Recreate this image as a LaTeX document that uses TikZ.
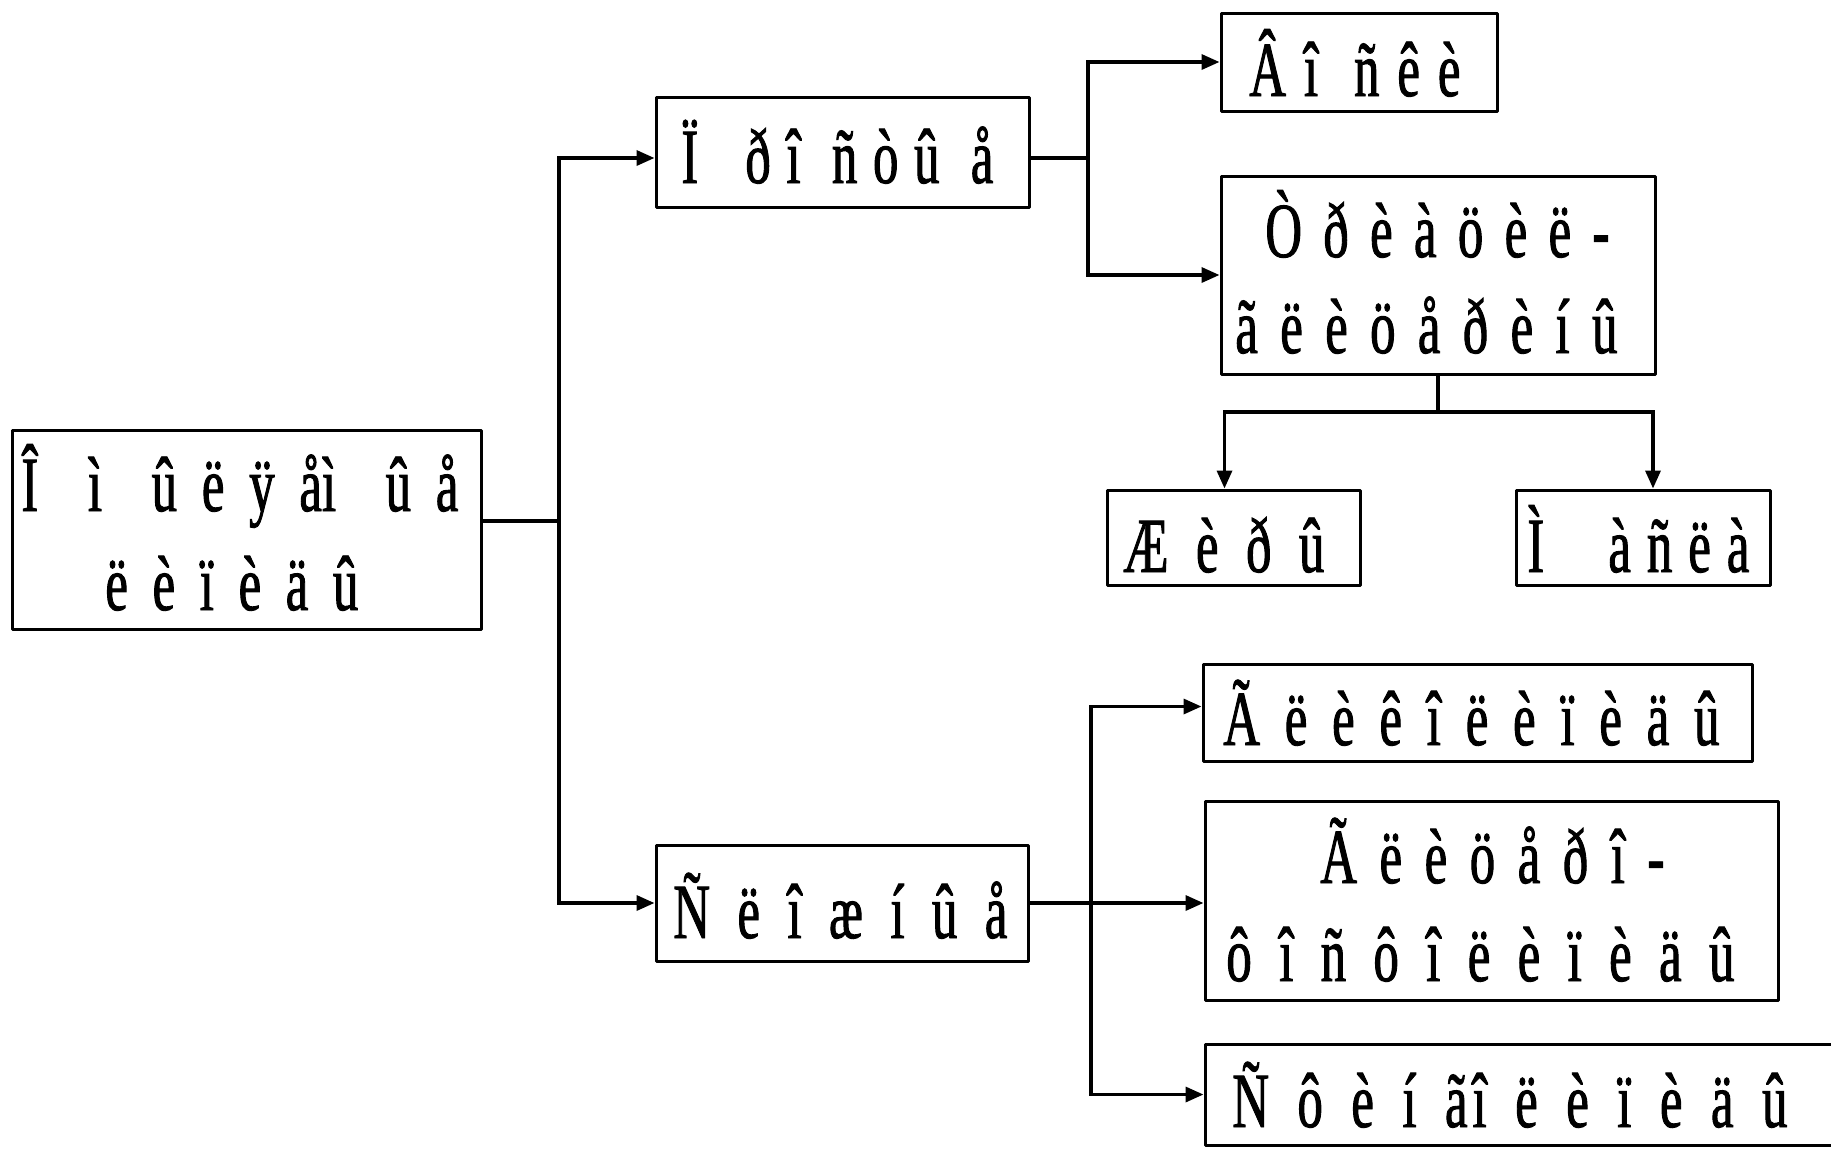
\documentclass[tikz,border=0pt]{standalone}
\usepackage{fontspec}
\setmainfont{Liberation Serif}[FakeStretch=0.65,FakeBold=1.2]
\usetikzlibrary{arrows.meta}
\newcommand\fitline[2]{\makebox[#1][s]{#2}}
\begin{document}
\begin{tikzpicture}[x=0.5pt,y=-0.5pt,
  box/.style={draw, line width=1.5pt, inner sep=0pt, line join=round},
  txt/.style={anchor=base west, inner sep=0pt, font=\fontsize{39}{47}\selectfont},
  conn/.style={line width=1.7pt},
  arr/.style={conn, -{Triangle[length=9pt,width=7.5pt]}}]
\useasboundingbox (0,0) rectangle (1831,1148);
\fill[white] (0,0) rectangle (1831,1148);
% boxes
\node[box, minimum width=234.5pt, minimum height=99.5pt] (b1) at (246.5,529.5) {};
\node[box, minimum width=186.5pt, minimum height=55pt] (b2) at (842.5,152) {};
\node[box, minimum width=138pt, minimum height=49pt] (vosk) at (1359,62) {};
\node[box, minimum width=217pt, minimum height=99pt] (tri) at (1438,275) {};
\node[box, minimum width=126.5pt, minimum height=47.5pt] (zhir) at (1233.5,537.5) {};
\node[box, minimum width=127pt, minimum height=47.5pt] (masla) at (1643,537.5) {};
\node[box, minimum width=186pt, minimum height=58pt] (b3) at (842,903) {};
\node[box, minimum width=274.5pt, minimum height=48.5pt] (glik) at (1477.5,712.5) {};
\node[box, minimum width=286.5pt, minimum height=99.5pt] (glits) at (1491.5,900.5) {};
\node[box, minimum width=372.5pt, minimum height=50.5pt] (sfin) at (1577.5,1094.5) {};
% texts
\node[txt] (t1a) at (21,511) {\fitline{218.5pt}{Î\ \ ì\ \ û\ ë ÿ åì\ \ û\ å}};
\node[txt] (t1b) at (105,610) {\fitline{126.5pt}{ë è ï è ä û}};
\node[txt] (t2) at (681,183) {\fitline{156pt}{Ï\ \ \ ð î\ \ ñ ò û\ \ å}};
\node[txt] (t3) at (1249,96) {\fitline{105.5pt}{Â\ î\ \ ñ ê\ è}};
\node[txt] (t4a) at (1265,257) {\fitline{172pt}{Ò ð è à ö\ è\ ë\ -}};
\node[txt] (t4b) at (1235,353) {\fitline{191pt}{ã ë è\ ö å ð è\ í\ û}};
\node[txt] (t5) at (1123,572) {\fitline{100.5pt}{Æ è ð û}};
\node[txt] (t6) at (1527,572) {\fitline{111pt}{Ì\ \ \ \ à ñ ë à}};
\node[txt] (t7) at (673,938) {\fitline{167pt}{Ñ ë î æ í û å}};
\node[txt] (t8) at (1223,745) {\fitline{248pt}{Ã ë è ê î ë è ï è ä û}};
\node[txt] (t9a) at (1320,883) {\fitline{172pt}{Ã ë è ö å ð î\ -}};
\node[txt] (t9b) at (1226,981) {\fitline{254pt}{ô î ñ ô î ë è ï è ä û}};
\node[txt] (t10) at (1232,1127) {\fitline{277.5pt}{Ñ ô è í ã\kern2.5ptî ë è ï è ä û}};
% connectors
\coordinate (j1) at (559,521);
\draw[conn] (j1 -| b1.east) -- (j1);
\draw[arr] (j1) |- ([yshift=-3pt]b2.west);
\draw[arr] (j1) |- (b3.west);
\coordinate (j2) at (1088,158);
\draw[conn] (j2 -| b2.east) -- (j2);
\draw[arr] (j2) |- (vosk.west);
\draw[arr] (j2) |- (tri.west);
\coordinate (j3) at (1438,412);
\draw[conn] (tri.south) -- (j3);
\draw[arr] (j3) -| ([xshift=-4.5pt]zhir.north);
\draw[arr] (j3) -| ([xshift=5pt]masla.north);
\coordinate (j4) at (1091,903);
\draw[arr] (b3.east) -- (b3.east -| glits.west);
\draw[arr] (j4) |- ([yshift=3pt]glik.west);
\draw[arr] (j4) |- (sfin.west);
\end{tikzpicture}
\end{document}
